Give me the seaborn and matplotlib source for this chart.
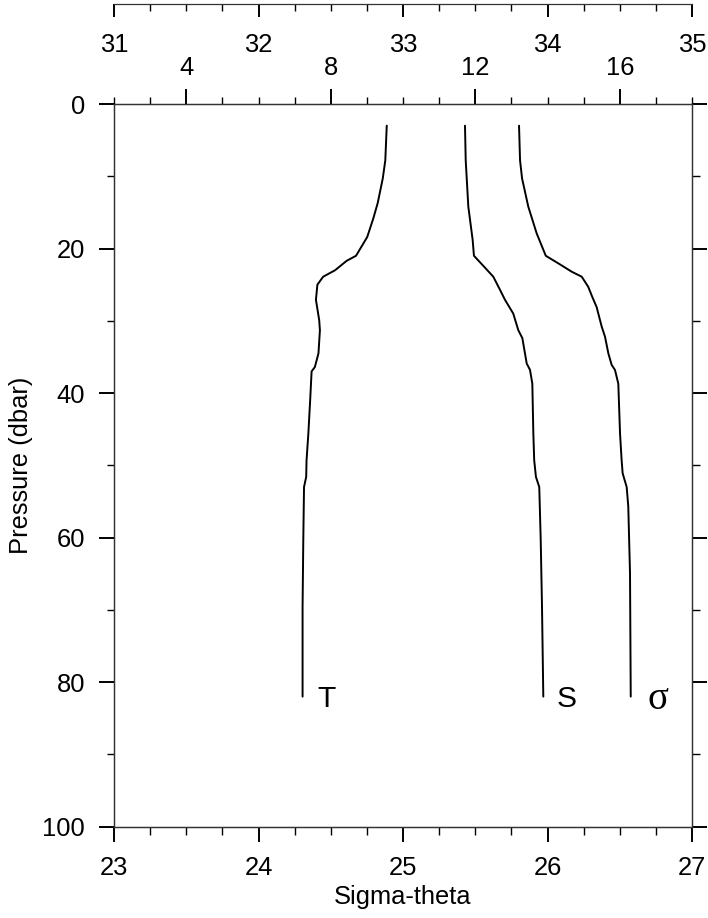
import numpy as np
import pandas as pd
import seaborn as sns
from matplotlib import pyplot as plt
from matplotlib.ticker import MultipleLocator

# CTD profile values
temp = [9.55, 9.51, 9.44, 9.30, 9.18, 9.01, 8.70, 8.44, 8.12, 7.79, 7.63, 7.59, 7.68,
        7.70, 7.66, 7.56, 7.47, 7.43, 7.38, 7.33, 7.32, 7.26, 7.24, 7.22, 7.22]
temp_p = [3.0, 7.8, 10.3, 13.7, 15.8, 18.4, 21.0, 21.7, 23.0, 23.9, 25.0, 27.1, 29.9,
          31.3, 34.5, 36.4, 37.0, 41.0, 45.6, 49.3, 51.6, 53.0, 60.3, 69.6, 82.0]

sal = [33.429, 33.434, 33.452, 33.482, 33.491, 33.556, 33.625, 33.671, 33.706, 33.763,
       33.798, 33.826, 33.856, 33.879, 33.895, 33.902, 33.908, 33.920, 33.943, 33.953,
       33.962, 33.971]
sal_p = [3.0, 7.8, 14.2, 18.8, 21.0, 22.4, 23.9, 25.7, 27.1, 29.0, 31.3, 32.4, 35.9,
         36.8, 38.7, 45.6, 49.3, 51.6, 53.0, 60.3, 69.6, 82.0]

sig = [25.803, 25.810, 25.824, 25.867, 25.925, 25.988, 26.087, 26.167, 26.237, 26.282,
       26.310, 26.340, 26.375, 26.398, 26.421, 26.444, 26.467, 26.490, 26.502, 26.513,
       26.520, 26.548, 26.559, 26.571, 26.576]
sig_p = [3.0, 7.8, 10.3, 14.2, 17.9, 21.0, 22.2, 23.2, 23.9, 25.3, 26.7, 28.1, 30.8,
         32.2, 34.5, 36.1, 36.8, 38.7, 45.6, 49.3, 51.1, 53.0, 55.7, 64.9, 82.0]

# curve labels (text, sigma-theta position)
curve_labels = [("T", 24.405), ("S", 26.066)]

sns.set_style("ticks")
plt.rcParams['font.family'] = ['Liberation Sans', 'DejaVu Sans']
plt.rcParams['font.size'] = 18.4
for k in ['text.color', 'axes.labelcolor', 'xtick.color', 'ytick.color']:
    plt.rcParams[k] = 'black'

fig = plt.figure(figsize=(7.08, 9.18), dpi=100)
ax = fig.add_axes([114 / 708, 91.3 / 918, 578 / 708, 722.7 / 918])
ax_t = ax.twiny()
ax_s = ax.twiny()

line_kw = dict(color='black', lw=1.4, sort=False, estimator=None, legend=False)
sns.lineplot(x=sig, y=sig_p, ax=ax, **line_kw)
sns.lineplot(x=temp, y=temp_p, ax=ax_t, **line_kw)
sns.lineplot(x=sal, y=sal_p, ax=ax_s, **line_kw)

# main axes: sigma-theta vs pressure
ax.set_xlim(23, 27)
ax.set_ylim(100, 0)
ax.xaxis.set_major_locator(MultipleLocator(1))
ax.xaxis.set_minor_locator(MultipleLocator(0.25))
ax.yaxis.set_major_locator(MultipleLocator(20))
ax.yaxis.set_minor_locator(MultipleLocator(10))
ax.tick_params(which='both', direction='out', top=False, right=True,
               labelright=False, color='black')
ax.tick_params(which='major', length=10.8, width=1.4)
ax.tick_params(which='minor', length=5.4, width=1.0)
ax.tick_params(axis='x', which='major', pad=10.5)
ax.tick_params(axis='y', which='major', pad=10)
ax.set_xlabel('Sigma-theta')
ax.set_ylabel('Pressure (dbar)')
ax.xaxis.set_label_coords(0.5, -0.08)
ax.yaxis.set_label_coords(-0.14, 0.5)

# temperature axis on top of the frame
ax_t.set_xlim(2, 18)
ax_t.xaxis.set_major_locator(MultipleLocator(4))
ax_t.xaxis.set_minor_locator(MultipleLocator(1))
ax_t.tick_params(axis='x', which='both', direction='out', top=True, bottom=False,
                 labeltop=True, labelbottom=False, color='black')
ax_t.tick_params(axis='x', which='major', length=10.8, width=1.4, pad=6.2)
ax_t.tick_params(axis='x', which='minor', length=5.4, width=1.0)
ax_t.set_xlabel('')

# salinity axis floating above
ax_s.set_xlim(31, 35)
ax_s.xaxis.set_ticks_position('bottom')
ax_s.xaxis.set_label_position('bottom')
ax_s.spines['bottom'].set_position(('axes', (914 - 91.3) / 722.7))
for s in ['top', 'left', 'right']:
    ax_s.spines[s].set_visible(False)
ax_s.xaxis.set_major_locator(MultipleLocator(1))
ax_s.xaxis.set_minor_locator(MultipleLocator(0.25))
ax_s.tick_params(axis='x', which='both', direction='out', color='black')
ax_s.tick_params(axis='x', which='major', length=9.4, width=1.4, pad=11.5)
ax_s.tick_params(axis='x', which='minor', length=4.7, width=1.0)
ax_s.set_xlabel('')
ax_s.set_ylim(100, 0)

for a in [ax, ax_t, ax_s]:
    for sp in a.spines.values():
        sp.set_linewidth(0.9)
        sp.set_color('#333333')

for txt, xpos in curve_labels:
    ax.text(xpos, 83.4, txt, fontsize=21.6, ha='left', va='baseline')
ax.text(26.689, 83.7, 'σ', fontsize=28, ha='left', va='baseline',
        family=['Liberation Serif', 'DejaVu Serif'])

fig.savefig('out.png', dpi=100)
